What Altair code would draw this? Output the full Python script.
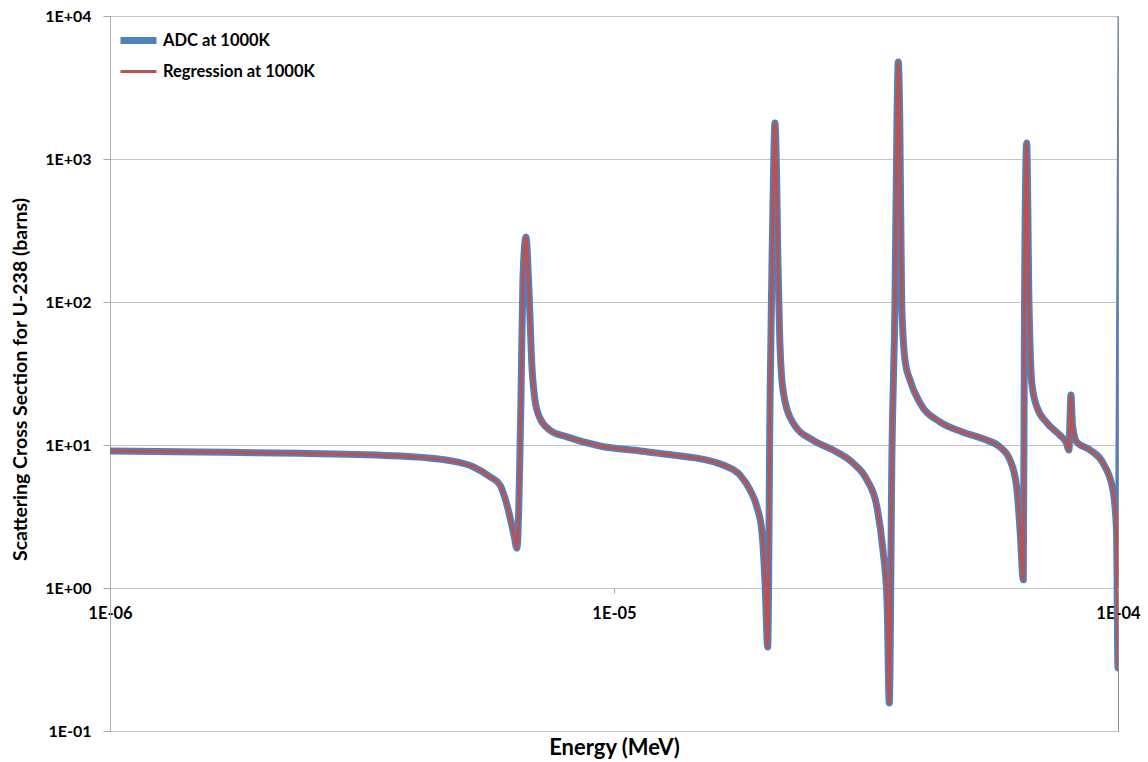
import altair as alt
import pandas as pd

energy_mev = [
    1.0e-6, 1.509e-6, 2.383e-6, 3.762e-6, 4.727e-6, 5.252e-6, 5.675e-6, 5.939e-6, 6.076e-6, 6.217e-6, 6.331e-6,
    6.418e-6, 6.537e-6, 6.596e-6, 6.688e-6, 6.78e-6, 6.874e-6, 6.97e-6, 7.13e-6, 7.464e-6, 8.066e-6,
    9.38e-6, 1.126e-5, 1.309e-5, 1.529e-5, 1.645e-5, 1.778e-5, 1.862e-5, 1.922e-5, 1.967e-5, 1.994e-5,
    2.018e-5, 2.040e-5, 2.058e-5, 2.073e-5, 2.086e-5, 2.101e-5, 2.115e-5, 2.13e-5, 2.164e-5, 2.265e-5,
    2.481e-5, 2.72e-5, 2.98e-5, 3.177e-5, 3.325e-5, 3.417e-5, 3.481e-5, 3.517e-5, 3.561e-5, 3.61e-5,
    3.643e-5, 3.665e-5, 3.69e-5, 3.722e-5, 3.779e-5, 3.866e-5, 4.046e-5, 4.434e-5, 4.926e-5, 5.497e-5,
    5.833e-5, 6.105e-5, 6.295e-5, 6.392e-5, 6.488e-5, 6.524e-5, 6.589e-5, 6.658e-5, 6.751e-5, 6.906e-5,
    7.228e-5, 7.671e-5, 7.884e-5, 7.993e-5, 8.03e-5, 8.066e-5, 8.122e-5, 8.279e-5, 8.8e-5, 9.337e-5,
    9.772e-5, 9.931e-5, 1.0e-4,
]

# Scattering cross section (barns), ADC at 1000K
adc_barns = [
    9.08, 8.93, 8.75, 8.38, 7.77, 7.05, 6.00, 5.25, 4.26, 3.14, 2.35,
    1.90, 20.6, 142.5, 285, 121, 35.1, 20.6, 15.4, 12.7, 11.4,
    9.84, 9.08, 8.51, 7.85, 7.25, 6.17, 4.84, 3.68, 2.42, 1.08,
    0.387, 20.6, 187, 838, 1785, 838, 187, 63.7, 24.3, 14.3,
    10.8, 9.23, 7.48, 5.69, 3.68, 1.84, 0.824, 0.157, 9.23, 100,
    1875, 4770, 1875, 100, 39.3, 28.5, 19.7, 14.5, 12.3, 10.8,
    9.68, 7.85, 5.08, 2.55, 1.14, 100, 1294, 100, 26.3, 18.4,
    14.3, 11.7, 10.5, 9.23, 15.0, 22.4, 13.8, 10.5, 9.23, 7.48,
    4.84, 2.55, 0.276,
]

# Regression at 1000K (overlaps the ADC curve)
regression_barns = [
    9.08, 8.93, 8.75, 8.38, 7.77, 7.05, 6.00, 5.25, 4.26, 3.14, 2.35,
    1.90, 20.6, 142.5, 285, 121, 35.1, 20.6, 15.4, 12.7, 11.4,
    9.84, 9.08, 8.51, 7.85, 7.25, 6.17, 4.84, 3.68, 2.42, 1.08,
    0.387, 20.6, 187, 838, 1785, 838, 187, 63.7, 24.3, 14.3,
    10.8, 9.23, 7.48, 5.69, 3.68, 1.84, 0.824, 0.157, 9.23, 100,
    1875, 4770, 1875, 100, 39.3, 28.5, 19.7, 14.5, 12.3, 10.8,
    9.68, 7.85, 5.08, 2.55, 1.14, 100, 1294, 100, 26.3, 18.4,
    14.3, 11.7, 10.5, 9.23, 15.0, 22.4, 13.8, 10.5, 9.23, 7.48,
    4.84, 2.55, 0.276,
]

# ADC curve continues upward just past the right edge (next resonance)
adc_tail_energy = [1.014e-4]
adc_tail_barns = [1.0e4]

series_names = ["ADC at 1000K", "Regression at 1000K"]
series_colors = ["#4F81BD", "#C0504D"]
series_widths = [7, 3]

x_ticks = [1e-6, 1e-5, 1e-4]
y_ticks = [0.1, 1, 10, 100, 1000, 10000]

adc_df = pd.DataFrame({
    "energy": energy_mev + adc_tail_energy,
    "sigma": adc_barns + adc_tail_barns,
    "series": series_names[0],
})
reg_df = pd.DataFrame({
    "energy": energy_mev,
    "sigma": regression_barns,
    "series": series_names[1],
})

FONT = "Lato"
label_expr = "'1E' + (datum.value >= 1 ? '+' : '-') + '0' + abs(round(log(datum.value) / LN10))"

x_enc = alt.X(
    "energy:Q",
    scale=alt.Scale(type="log", domain=[1e-6, 1e-4], nice=False),
    axis=alt.Axis(
        values=x_ticks, labelExpr=label_expr, grid=False, offset=-143,
        domainColor="#c0c0c0", tickColor="#a6a6a6", tickSize=5, labelPadding=12,
        labelFlush=False, labelFont=FONT, labelFontSize=16.5, labelFontWeight="bold",
        labelColor="black", title="Energy (MeV)", titleFont=FONT, titleFontSize=22,
        titleFontWeight="bold", titleColor="black", titleX=504, titleY=159,
        titleBaseline="middle", titleAlign="center",
    ),
)
y_enc = alt.Y(
    "sigma:Q",
    scale=alt.Scale(type="log", domain=[0.1, 1e4], nice=False),
    axis=alt.Axis(
        values=y_ticks, labelExpr=label_expr, grid=True, gridColor="#c4c4c4",
        domainColor="#b0b0b0", tickColor="#a6a6a6", tickSize=7, labelPadding=12,
        labelFont=FONT, labelFontSize=16, labelFontWeight="bold", labelColor="black",
        title="Scattering Cross Section for U-238 (barns)", titleFont=FONT,
        titleFontSize=19.5, titleFontWeight="bold", titleColor="black",
        titleX=-90, titleY=363, titleBaseline="middle", titleAlign="center", titleAngle=270,
    ),
)

legend = alt.Legend(
    orient="none", legendX=10, legendY=6, title=None,
    symbolType="M-1.2,0H1.2", symbolSize=900, rowPadding=0, labelOffset=6,
    labelFont=FONT, labelFontSize=16.5, labelFontWeight="bold", labelColor="black",
)
color_enc = alt.Color("series:N", scale=alt.Scale(domain=series_names, range=series_colors), legend=legend)
width_enc = alt.StrokeWidth("series:N", scale=alt.Scale(domain=series_names, range=series_widths), legend=legend)

base_mark = dict(strokeCap="round", strokeJoin="round", clip=True, interpolate="monotone")

adc_line = alt.Chart(adc_df).mark_line(**base_mark).encode(
    x=x_enc, y=y_enc, color=color_enc, strokeWidth=width_enc
)
reg_line = alt.Chart(reg_df).mark_line(**base_mark).encode(
    x=x_enc, y=y_enc, color=color_enc, strokeWidth=width_enc
)

chart = alt.layer(adc_line, reg_line).properties(
    width=1008, height=715,
    autosize=alt.AutoSizeParams(type="none"),
    padding={"left": 110, "top": 16, "right": 30, "bottom": 31},
).configure_view(stroke="#8c8c8c", strokeWidth=1)

chart.save("out.html", embed_options={"renderer": "svg", "actions": False})
